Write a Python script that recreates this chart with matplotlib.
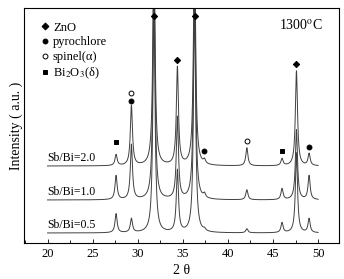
import matplotlib
matplotlib.use("Agg")
import matplotlib.pyplot as plt
import numpy as np
from matplotlib.lines import Line2D
from matplotlib.ticker import MultipleLocator

plt.rcParams['font.family'] = ['Liberation Serif', 'DejaVu Serif']
plt.rcParams['mathtext.fontset'] = 'stix'

# peak positions (2 theta, degrees)
peak_pos = [27.6, 29.3, 31.8, 34.4, 36.3, 37.4, 42.1, 46.0, 47.6, 49.0]
# peak heights above baseline for each sample (a.u.)
samples = ["Sb/Bi=0.5", "Sb/Bi=1.0", "Sb/Bi=2.0"]
heights = {
    "Sb/Bi=0.5": [19, 14, 230, 62, 230, 2, 4, 10, 80, 14],
    "Sb/Bi=1.0": [24, 55, 230, 82, 230, 4, 10, 11, 70, 24],
    "Sb/Bi=2.0": [11, 60, 230, 98, 230, 4, 18, 7, 95, 12],
}
offsets = [10, 43, 77]

# phase markers on the top pattern
phases = ["ZnO", "pyrochlore", "spinel(α)", "Bi$_2$O$_3$(δ)"]
phase_marker = ["D", "o", "o", "s"]
phase_face = ["black", "black", "white", "black"]
phase_peaks = [[31.8, 36.3, 34.4, 47.6], [29.3, 37.4, 49.0], [29.3, 42.1], [27.6, 46.0]]
phase_gap = [[-1, -1, 6, 7], [4, 7, 6], [12, 7], [12, 7]]

x = np.arange(20, 50.001, 0.01)
hw = 0.14


def pattern(h):
    y = np.zeros_like(x)
    for p, a in zip(peak_pos, h):
        y += a / (1 + ((x - p) / hw) ** 2)
    return y


fig = plt.figure(figsize=(3.44, 2.79), dpi=100)
ax = fig.add_axes([0.070, 0.129, 0.915, 0.842])

curves = {}
for s, off in zip(samples, offsets):
    curves[s] = pattern(heights[s]) + off
    ax.plot(x, curves[s], color="#404040", lw=0.7)
    ax.text(20, off + 2, s, fontsize=8.5, ha="left", va="bottom")

top = curves["Sb/Bi=2.0"]
for name, m, fc, pks, gaps in zip(phases, phase_marker, phase_face, phase_peaks, phase_gap):
    for p, g in zip(pks, gaps):
        yv = min(np.interp(p, x, top) + g, 227)
        ax.plot(p, yv, marker=m, ms=3.5 if m != "D" else 3.2, mfc=fc, mec="black", mew=0.7, ls="none")

handles = [Line2D([], [], marker=m, ls="none", mfc=fc, mec="black", mew=0.7, ms=3.5)
           for m, fc in zip(phase_marker, phase_face)]
ax.legend(handles, phases, loc="upper left", bbox_to_anchor=(0.02, 0.99), frameon=False,
          fontsize=9, handlelength=0.6, handletextpad=0.3, labelspacing=0.22, borderaxespad=0.5)

ax.text(0.95, 0.93, "1300$^{\\rm o}$C", transform=ax.transAxes, ha="right", va="center", fontsize=10)

ax.set_xlim(17.4, 52.3)
ax.set_ylim(0, 235)
ax.set_yticks([])
ax.xaxis.set_major_locator(MultipleLocator(5))
ax.xaxis.set_minor_locator(MultipleLocator(2.5))
ax.tick_params(axis="x", which="both", direction="in", labelsize=9, length=3, width=0.6)
ax.tick_params(axis="x", which="minor", length=2)
for sp in ax.spines.values():
    sp.set_linewidth(0.8)
ax.set_xlabel("2 θ", fontsize=10, labelpad=3)
ax.set_ylabel("Intensity ( a.u. )", fontsize=10, labelpad=1)

fig.savefig("out.png", dpi=100)
